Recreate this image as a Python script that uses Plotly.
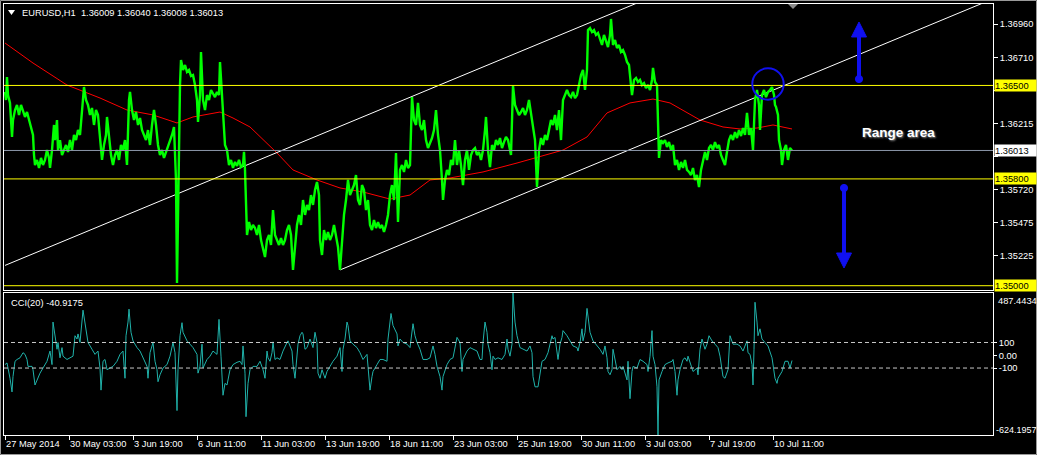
import plotly.graph_objects as go

# ------------------------------------------------------------------ data
date_tick_bars = [0, 64, 128, 192, 256, 320, 384, 448, 512, 576, 640, 704, 768]
date_tick_labels = ["27 May 2014", "30 May 03:00", "3 Jun 19:00", "6 Jun 11:00",
                    "11 Jun 03:00", "13 Jun 19:00", "18 Jun 11:00", "23 Jun 03:00",
                    "25 Jun 19:00", "30 Jun 11:00", "3 Jul 03:00", "7 Jul 19:00",
                    "10 Jul 11:00"]
price_tick_vals = [1.35225, 1.35475, 1.35720, 1.35970, 1.36215, 1.36465, 1.36710, 1.36960]
hidden_ticks = [1.35970, 1.36465]   # labels covered by the price tags
level_lines = [1.36500, 1.35800, 1.35000]
bid_price = 1.36013
header_text = "EURUSD,H1\u00a0 1.36009 1.36040 1.36008 1.36013"
cci_text = "CCI(20) -40.9175"
cci_max = 487.4434
cci_min = -624.1957
cci_levels = [100, -100]

# (bar index, price)
price_path = [
 (0,1.36451),(1,1.36391),(2,1.36563),(3,1.36428),(5,1.36369),(6,1.36166),(7,1.36114),(8,1.36241),
 (10,1.36316),(12,1.36354),(14,1.36279),(16,1.36354),(18,1.36316),(20,1.36264),(22,1.36301),
 (24,1.36241),(26,1.36204),(28,1.36129),(29,1.35979),(30,1.35904),(32,1.35942),(34,1.35882),
 (36,1.35957),(38,1.35904),(40,1.35942),(42,1.36016),(44,1.35957),(45,1.35882),(47,1.36016),
 (49,1.36204),(50,1.36091),(52,1.36241),(53,1.36016),(55,1.36091),(57,1.35979),(59,1.36016),
 (61,1.36054),(63,1.36002),(65,1.36091),(67,1.36016),(69,1.36129),(71,1.36091),(73,1.36166),
 (75,1.36129),(77,1.36316),(79,1.36488),(81,1.36391),(83,1.36354),(85,1.36279),(87,1.36331),
 (89,1.36204),(91,1.36316),(93,1.36279),(95,1.36091),(97,1.35942),(99,1.36054),(101,1.36129),
 (102,1.36264),(104,1.36091),(106,1.35979),(108,1.35904),(110,1.35979),(112,1.36016),
 (114,1.35942),(116,1.36054),(118,1.36016),(120,1.36091),(122,1.35904),(124,1.36391),
 (125,1.36451),(127,1.36316),(129,1.36241),(131,1.36301),(133,1.36204),(135,1.36256),
 (137,1.36166),(139,1.36129),(141,1.36091),(143,1.36166),(145,1.36054),(147,1.36204),
 (149,1.36316),(151,1.36204),(153,1.36054),(155,1.35979),(157,1.36016),(159,1.35957),
 (161,1.36002),(163,1.36031),(165,1.36091),(167,1.36129),(169,1.36189),(171,1.35792),
 (172,1.35020),(173,1.35642),(174,1.36241),(175,1.36503),(176,1.36691),(178,1.36616),
 (180,1.36653),(182,1.36601),(184,1.36616),(186,1.36571),(188,1.36578),(190,1.36503),
 (192,1.36391),(193,1.36226),(195,1.36428),(196,1.36751),(198,1.36391),(200,1.36316),
 (202,1.36428),(204,1.36391),(206,1.36466),(208,1.36443),(210,1.36413),(212,1.36451),
 (214,1.36428),(215,1.36676),(217,1.36391),(218,1.36241),(220,1.36054),(222,1.36016),
 (224,1.35904),(226,1.35942),(228,1.35882),(230,1.35927),(232,1.35897),(234,1.35942),
 (236,1.35889),(238,1.35904),(239,1.36002),(240,1.35867),(241,1.35567),(242,1.35380),
 (244,1.35477),(246,1.35417),(248,1.35455),(250,1.35432),(252,1.35380),(254,1.35455),
 (256,1.35342),(258,1.35267),(260,1.35215),(262,1.35342),(264,1.35380),(266,1.35305),
 (268,1.35567),(270,1.35380),(272,1.35342),(274,1.35305),(276,1.35357),(278,1.35305),
 (280,1.35342),(282,1.35417),(284,1.35455),(286,1.35380),(288,1.35118),(290,1.35305),
 (292,1.35455),(294,1.35530),(296,1.35455),(298,1.35642),(300,1.35530),(302,1.35605),
 (304,1.35567),(306,1.35679),(308,1.35605),(310,1.35717),(312,1.35777),(314,1.35679),
 (315,1.35342),(317,1.35230),(319,1.35417),(321,1.35342),(323,1.35402),(325,1.35342),
 (327,1.35380),(329,1.35455),(331,1.35380),(333,1.35290),(335,1.35118),(337,1.35305),
 (339,1.35530),(341,1.35642),(343,1.35792),(345,1.35679),(347,1.35717),(349,1.35754),
 (351,1.35829),(353,1.35642),(355,1.35605),(357,1.35754),(359,1.35717),(361,1.35567),
 (363,1.35642),(365,1.35455),(367,1.35417),(369,1.35492),(371,1.35432),(373,1.35477),
 (375,1.35432),(377,1.35455),(379,1.35402),(381,1.35455),(383,1.35530),(385,1.35679),
 (387,1.35754),(389,1.35642),(391,1.35994),(393,1.35477),(395,1.35867),(397,1.35904),
 (399,1.35852),(401,1.35942),(403,1.35882),(405,1.35904),(407,1.36413),(409,1.36241),
 (411,1.36204),(413,1.36369),(415,1.36204),(417,1.36166),(419,1.36241),(421,1.36091),
 (423,1.36031),(425,1.36069),(427,1.36106),(429,1.36166),(431,1.36316),(433,1.36129),
 (435,1.36016),(437,1.35792),(438,1.35642),(440,1.35792),(442,1.35867),(444,1.35829),
 (446,1.35942),(448,1.35904),(450,1.36091),(452,1.35904),(454,1.36016),(456,1.35904),
 (458,1.35754),(460,1.35942),(462,1.36016),(464,1.35867),(466,1.35979),(468,1.36016),
 (470,1.36031),(472,1.35979),(474,1.36002),(476,1.35942),(478,1.36016),(480,1.36166),
 (481,1.36264),(483,1.36016),(485,1.35889),(487,1.36054),(489,1.36016),(491,1.36091),
 (493,1.36054),(495,1.36106),(497,1.36031),(499,1.36076),(501,1.36114),(503,1.36091),
 (505,1.36016),(506,1.35979),(508,1.36496),(510,1.36354),(512,1.36316),(514,1.36279),
 (516,1.36301),(518,1.36331),(520,1.36279),(522,1.36316),(524,1.36391),(526,1.36279),
 (528,1.36166),(530,1.36091),(532,1.35739),(534,1.36016),(536,1.36106),(538,1.36054),
 (540,1.36129),(542,1.36091),(544,1.36166),(546,1.36241),(548,1.36204),(550,1.36279),
 (552,1.36166),(554,1.36316),(556,1.36091),(558,1.36391),(560,1.36428),(562,1.36466),
 (564,1.36428),(566,1.36413),(568,1.36451),(570,1.36406),(572,1.36428),(574,1.36503),
 (576,1.36578),(578,1.36616),(580,1.36466),(582,1.36616),(583,1.36915),(585,1.36930),
 (587,1.36900),(589,1.36915),(591,1.36878),(593,1.36893),(595,1.36840),(597,1.36803),
 (599,1.36878),(601,1.36840),(603,1.36788),(605,1.36878),(606,1.36998),(608,1.36803),
 (610,1.36840),(612,1.36780),(614,1.36803),(616,1.36751),(618,1.36765),(620,1.36728),
 (622,1.36676),(624,1.36653),(625,1.36578),(627,1.36428),(629,1.36541),(631,1.36556),
 (633,1.36526),(635,1.36541),(637,1.36503),(639,1.36518),(641,1.36481),(643,1.36503),
 (645,1.36466),(647,1.36541),(648,1.36631),(650,1.36526),(652,1.36503),(653,1.36091),
 (654,1.35957),(656,1.36091),(658,1.36069),(660,1.36091),(662,1.36039),(664,1.36076),
 (666,1.36016),(668,1.36054),(670,1.35904),(672,1.35942),(674,1.35867),(676,1.35927),
 (678,1.35882),(680,1.35942),(682,1.35867),(684,1.35852),(686,1.35829),(688,1.35882),
 (690,1.35792),(692,1.35829),(694,1.35739),(696,1.35867),(698,1.35942),(700,1.36002),
 (702,1.35942),(704,1.36031),(706,1.36054),(708,1.36016),(710,1.36076),(712,1.36031),
 (714,1.36054),(716,1.35979),(718,1.35942),(720,1.35904),(722,1.36002),(724,1.36091),
 (726,1.36129),(728,1.36091),(730,1.36151),(732,1.36106),(734,1.36166),(736,1.36121),
 (738,1.36181),(740,1.36129),(742,1.36294),(744,1.36129),(746,1.36181),(748,1.36016),
 (750,1.36391),(752,1.36466),(754,1.36354),(755,1.36166),(757,1.36428),(759,1.36466),
 (761,1.36413),(763,1.36451),(765,1.36466),(767,1.36488),(769,1.36428),(770,1.36354),
 (771,1.36339),(773,1.36279),(774,1.36091),(776,1.36016),(777,1.35904),(779,1.36016),
 (781,1.36054),(783,1.35942),(785,1.36031),(787,1.36013),
]

ma_path = [
 (0,1.36818),(28,1.36668),(62,1.36503),(95,1.36406),(122,1.36316),(148,1.36279),(172,1.36219),
 (188,1.36264),(215,1.36301),(228,1.36256),(245,1.36189),(262,1.36069),(272,1.35994),
 (288,1.35867),(312,1.35792),(335,1.35732),(358,1.35702),(385,1.35649),(405,1.35679),
 (425,1.35792),(445,1.35807),(478,1.35852),(512,1.35919),(558,1.36016),(582,1.36114),
 (602,1.36294),(625,1.36369),(648,1.36398),(665,1.36369),(695,1.36241),(718,1.36189),
 (735,1.36174),(752,1.36181),(768,1.36204),(787,1.36174),
]

cci_path = [
 (0,-73),(2,-60),(5,-180),(7,-287),(8,-167),(10,-47),(12,-33),(15,-20),(18,20),(20,7),(22,-33),
 (23,-87),(27,-87),(28,-113),(30,-233),(32,-193),(35,-140),(38,-100),(42,-47),(45,33),(47,-73),
 (48,260),(50,153),(52,47),(53,100),(55,-20),(57,60),(58,-7),(62,-33),(65,-20),(68,-7),(70,153),
 (72,127),(73,167),(75,100),(78,353),(80,260),(82,180),(83,100),(87,47),(90,7),(93,33),(95,-100),
 (96,-273),(98,-47),(100,-33),(102,-113),(105,-100),(108,-87),(112,-47),(115,7),(118,33),
 (120,-180),(121,153),(123,260),(124,361),(126,180),(128,113),(132,60),(135,33),(138,-20),
 (142,-87),(143,-180),(145,20),(148,100),(150,-47),(152,-113),(153,-207),(155,-153),(158,-100),
 (162,-73),(165,-7),(168,100),(170,20),(172,-433),(173,-113),(175,153),(177,255),(178,180),
 (182,113),(185,87),(188,60),(192,7),(193,-140),(195,-87),(197,87),(198,-100),(202,-33),(205,-7),
 (208,33),(212,7),(213,167),(214,281),(216,-7),(217,-247),(218,-313),(220,-220),(222,-233),
 (225,-113),(228,-73),(232,-55),(235,-47),(237,-73),(238,73),(240,-140),(241,-481),(243,-220),
 (245,-113),(248,-87),(252,-87),(255,-47),(258,-113),(260,-180),(262,33),(263,-20),(265,-47),
 (267,20),(268,105),(270,-33),(272,-20),(275,-33),(278,33),(282,100),(283,113),(287,33),(288,-73),
 (290,-180),(292,-33),(293,87),(295,153),(297,180),(298,167),(300,47),(302,60),(305,127),(308,60),
 (310,180),(312,100),(313,-140),(315,-180),(317,-113),(320,-180),(322,-127),(325,-87),(328,-47),
 (332,-7),(335,60),(337,-127),(338,47),(340,127),(342,260),(343,233),(345,113),(348,87),(352,60),
 (355,20),(358,-33),(362,7),(363,-113),(365,-273),(367,-167),(368,-127),(372,-73),(375,-33),
 (378,-33),(382,-47),(383,127),(386,327),(388,233),(392,167),(393,73),(395,127),(398,100),
 (402,87),(405,60),(407,207),(408,247),(410,153),(412,100),(415,47),(418,-33),(422,-33),
 (425,-20),(428,73),(430,7),(432,-87),(435,-167),(437,-273),(438,-167),(442,-73),(445,-33),
 (448,-20),(452,140),(455,100),(457,-127),(458,-33),(462,33),(465,60),(468,47),(472,33),
 (475,-33),(477,-33),(478,100),(480,260),(482,180),(483,87),(485,20),(487,-113),(488,-7),
 (490,-33),(493,-20),(497,-33),(500,7),(502,127),(503,47),(505,-7),(507,87),(508,487),(510,260),
 (512,153),(515,60),(518,47),(522,33),(525,73),(527,20),(528,-167),(530,-247),(533,-247),
 (535,-140),(537,-47),(540,-33),(543,20),(547,153),(548,127),(550,140),(553,-33),(555,87),
 (557,140),(558,193),(562,153),(565,113),(568,73),(572,60),(573,33),(575,100),(577,207),
 (578,113),(580,180),(582,367),(585,180),(588,113),(592,73),(595,47),(598,7),(600,73),(602,-20),
 (603,-127),(605,-153),(607,-113),(608,47),(610,-47),(612,-113),(615,-87),(617,-113),(618,-87),
 (622,-193),(623,-47),(625,-340),(627,-127),(628,-87),(632,-100),(635,-33),(638,-47),(642,-73),
 (643,-127),(645,-7),(647,193),(648,-7),(650,-73),(652,-247),(653,-624),(654,-193),(657,-127),
 (660,-73),(663,-60),(667,-47),(668,-33),(670,-127),(672,-313),(673,-193),(675,-113),(678,-33),
 (680,-20),(682,-47),(683,-7),(685,-60),(688,-127),(692,-100),(693,-153),(695,47),(697,127),
 (700,47),(702,87),(704,153),(707,113),(710,87),(713,60),(715,-7),(718,-167),(720,-180),
 (723,-113),(725,153),(728,87),(732,87),(735,73),(738,33),(742,113),(743,20),(745,7),(747,-73),
 (748,-233),(749,47),(750,415),(752,260),(753,153),(755,207),(757,127),(760,100),(763,73),
 (767,-20),(768,-73),(770,-180),(772,-220),(773,-180),(777,-127),(780,-47),(783,-47),(785,-100),
 (787,-41),
]

upper_channel = [(0, 1.35152), (640, 1.37142)]
lower_channel = [(335, 1.35118), (990, 1.37155)]

# annotation objects drawn on the chart (bar index, price)
circle_center = (763, 1.36511)
up_arrow = dict(bar=854, dot=1.36548, base=1.36863, tip=1.36975)
down_arrow = dict(bar=839, dot=1.35732, base=1.35245, tip=1.35133)
range_label = (893, 1.36144)

# ------------------------------------------------------------------ geometry helpers
W, H = 1037, 455
ML, MR, MT, MB = 4, 44, 4, 20
PW, PH = W - ML - MR, H - MT - MB
X_RANGE = [-1, PW - 1]
PRICE_PER_PX = 0.0000749
Y_RANGE = [1.37140 - PRICE_PER_PX * 290, 1.37140 - PRICE_PER_PX * 4]


def px_x(px):
    return (px - ML) / PW


def px_y(py):
    return (H - MB - py) / PH


BLUE = "#1010f0"
YELLOW = "#ffff00"
FONT = "Liberation Sans, Arial, sans-serif"

fig = go.Figure()

px, pv = zip(*price_path)
mx, mv = zip(*ma_path)
cx, cv = zip(*cci_path)

fig.add_trace(go.Scatter(x=list(mx), y=list(mv), mode="lines",
                         line=dict(color="#ff0000", width=1), xaxis="x", yaxis="y"))
for ch in (upper_channel, lower_channel):
    fig.add_trace(go.Scatter(x=[p[0] for p in ch], y=[p[1] for p in ch], mode="lines",
                             line=dict(color="#ffffff", width=1), xaxis="x", yaxis="y"))
fig.add_trace(go.Scatter(x=list(px), y=list(pv), mode="lines",
                         line=dict(color="#00ff00", width=2.4), xaxis="x", yaxis="y"))
fig.add_trace(go.Scatter(x=list(cx), y=list(cv), mode="lines",
                         line=dict(color="#20b2aa", width=1), xaxis="x2", yaxis="y2"))

shapes = []
for lv in level_lines:
    shapes.append(dict(type="line", xref="paper", x0=0, x1=1, yref="y", y0=lv, y1=lv,
                       line=dict(color=YELLOW, width=1)))
shapes.append(dict(type="line", xref="paper", x0=0, x1=1, yref="y", y0=bid_price, y1=bid_price,
                   line=dict(color="#8a96a8", width=1)))
for lv in cci_levels:
    shapes.append(dict(type="line", xref="paper", x0=0, x1=1, yref="y2", y0=lv, y1=lv,
                       line=dict(color="#c8c8c8", width=1, dash="4px,3px")))

# blue circle
r_bars = 15.7
r_price = 15.7 * PRICE_PER_PX
shapes.append(dict(type="circle", xref="x", yref="y",
                   x0=circle_center[0] - r_bars, x1=circle_center[0] + r_bars,
                   y0=circle_center[1] - r_price, y1=circle_center[1] + r_price,
                   line=dict(color=BLUE, width=2)))

# arrows
dot_b, dot_p = 3.6, 3.6 * PRICE_PER_PX
for arr in (up_arrow, down_arrow):
    b = arr["bar"]
    shapes.append(dict(type="line", xref="x", yref="y", x0=b, x1=b, y0=arr["dot"], y1=arr["base"],
                       line=dict(color=BLUE, width=4)))
    shapes.append(dict(type="path", xref="x", yref="y",
                       path=f"M {b-7.5},{arr['base']} L {b+7.5},{arr['base']} L {b},{arr['tip']} Z",
                       fillcolor=BLUE, line=dict(color=BLUE, width=1)))
    shapes.append(dict(type="circle", xref="x", yref="y", x0=b - dot_b, x1=b + dot_b,
                       y0=arr["dot"] - dot_p, y1=arr["dot"] + dot_p,
                       fillcolor=BLUE, line=dict(color=BLUE, width=1)))

# header triangle and chart-shift marker
shapes.append(dict(type="path", xref="paper", yref="paper",
                   path=f"M {px_x(8)},{px_y(10)} L {px_x(15)},{px_y(10)} L {px_x(11.5)},{px_y(15)} Z",
                   fillcolor="#ffffff", line=dict(width=0)))
shapes.append(dict(type="path", xref="paper", yref="paper",
                   path=f"M {px_x(788)},{px_y(4)} L {px_x(798)},{px_y(4)} L {px_x(793)},{px_y(9)} Z",
                   fillcolor="#8c8c8c", line=dict(width=0)))
# window border
shapes.append(dict(type="rect", xref="paper", yref="paper",
                   x0=px_x(0.5), x1=px_x(1036.5), y0=px_y(454.5), y1=px_y(0.5),
                   line=dict(color="#9a9a9a", width=1)))

annotations = []
tf = dict(family=FONT, size=9.3, color="#ffffff")
annotations.append(dict(text=header_text, xref="paper", yref="paper", x=px_x(20), y=px_y(12.7),
                        xanchor="left", yanchor="middle", showarrow=False, font=tf))
annotations.append(dict(text=cci_text, xref="paper", yref="paper", x=px_x(9), y=px_y(302.7),
                        xanchor="left", yanchor="middle", showarrow=False, font=tf))
annotations.append(dict(text="<b>Range area</b>", xref="x", yref="y", x=range_label[0], y=range_label[1],
                        xanchor="center", yanchor="middle", showarrow=False,
                        font=dict(family=FONT, size=13.5, color="#ffffff", shadow="1px 1px 2px #8a8a8a")))
for lv in level_lines:
    annotations.append(dict(text=f"{lv:.5f}", xref="paper", yref="y", x=px_x(994), y=lv,
                            xanchor="left", yanchor="middle", showarrow=False, align="left",
                            width=41, height=11, borderpad=0, bgcolor=YELLOW,
                            font=dict(family=FONT, size=9.3, color="#000000")))
annotations.append(dict(text=f"{bid_price:.5f}", xref="paper", yref="y", x=px_x(994), y=bid_price,
                        xanchor="left", yanchor="middle", showarrow=False, align="left",
                        width=41, height=11, borderpad=0, bgcolor="#ffffff",
                        font=dict(family=FONT, size=9.3, color="#000000")))
annotations.append(dict(text=f"{cci_max:.4f}", xref="paper", yref="paper", x=px_x(996), y=px_y(300.7),
                        xanchor="left", yanchor="middle", showarrow=False, font=tf))
annotations.append(dict(text=f"{cci_min:.4f}", xref="paper", yref="paper", x=px_x(994), y=px_y(429.7),
                        xanchor="left", yanchor="middle", showarrow=False,
                        font=dict(family=FONT, size=9, color="#ffffff")))

axis_common = dict(showgrid=False, zeroline=False, showline=True, mirror=True,
                   linecolor="#ffffff", linewidth=1, tickcolor="#ffffff", tickfont=tf,
                   automargin=False)

main_bottom = px_y(290)
cci_top = px_y(293)

fig.update_layout(
    width=W, height=H, margin=dict(l=ML, r=MR, t=MT, b=MB, autoexpand=False),
    paper_bgcolor="#000000", plot_bgcolor="#000000", showlegend=False,
    hovermode=False, shapes=shapes, annotations=annotations,
    xaxis=dict(domain=[0, 1], anchor="y", range=X_RANGE, showticklabels=False, ticks="",
               **axis_common),
    yaxis=dict(domain=[main_bottom, 1], anchor="x", range=Y_RANGE, side="right",
               tickvals=price_tick_vals,
               ticktext=["" if v in hidden_ticks else f"{v:.5f}" for v in price_tick_vals],
               ticks="outside", ticklen=4, **axis_common),
    xaxis2=dict(domain=[0, 1], anchor="y2", range=X_RANGE, tickvals=date_tick_bars,
                ticktext=date_tick_labels, ticks="outside", ticklen=4, tickangle=0,
                ticklabelposition="outside right", **axis_common),
    yaxis2=dict(domain=[0, cci_top], anchor="x2", range=[cci_min, cci_max], side="right",
                tickvals=[100, 0, -100], ticktext=["100", "0.00", "-100"],
                ticks="outside", ticklen=3, **axis_common),
)

fig.write_html("out.html", config={"displayModeBar": False, "staticPlot": True},
               post_script="document.body.style.margin='0';document.body.style.background='#000';")
